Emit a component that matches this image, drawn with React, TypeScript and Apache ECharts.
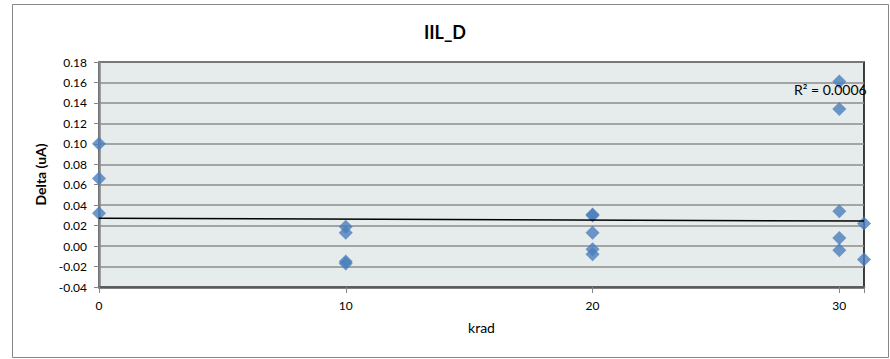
import React, { useEffect, useRef } from "react";
import * as echarts from "echarts";

const titleText = "IIL_D";
const xAxisName = "krad";
const yAxisName = "Delta (uA)";
const r2Label = "R² = 0.0006";

// scatter points: [krad, delta]
const kradValues = [0, 0, 0, 10, 10, 10, 10, 20, 20, 20, 20, 20, 30, 30, 30, 30, 30, 31, 31];
const deltaValues = [
  0.1, 0.066, 0.032,
  0.019, 0.013, -0.015, -0.017,
  0.031, 0.03, 0.013, -0.003, -0.008,
  0.161, 0.134, 0.034, 0.008, -0.004,
  0.022, -0.013,
];

// linear trend line endpoints
const trendX = [0, 31];
const trendY = [0.0272, 0.0245];

const yTicks = [-0.04, 0.18, 0.02];
const xTicks = [0, 31, 10];

const FONT = "Lato";

export default function App() {
  const ref = useRef<HTMLDivElement>(null);
  useEffect(() => {
    if (!ref.current) return;
    const chart = echarts.init(ref.current, undefined, { renderer: "svg" });
    const points = kradValues.map((x, i) => [x, deltaValues[i]]);
    const trend = trendX.map((x, i) => [x, trendY[i]]);
    chart.setOption({
      animation: false,
      backgroundColor: "#ffffff",
      textStyle: { fontFamily: FONT },
      title: {
        text: titleText,
        left: "center",
        top: 18,
        textStyle: { fontFamily: FONT, fontSize: 18, fontWeight: "bold", color: "#000" },
      },
      grid: {
        left: 99,
        right: 26,
        top: 62,
        bottom: 72,
        show: true,
        backgroundColor: "#e6ebeb",
        borderColor: "#000000",
        borderWidth: 1.5,
      },
      xAxis: {
        type: "value",
        min: xTicks[0],
        max: xTicks[1],
        interval: xTicks[2],
        name: xAxisName,
        nameLocation: "middle",
        nameGap: 33,
        nameTextStyle: { fontFamily: FONT, fontSize: 14, color: "#000" },
        axisLine: { show: true, onZero: false, lineStyle: { color: "#595959", width: 2.5 } },
        axisTick: { show: true, length: 6, lineStyle: { color: "#868686", width: 1 } },
        axisLabel: {
          margin: 12,
          fontFamily: FONT,
          fontSize: 12,
          color: "#000",
          formatter: (v: number) => (v % 10 === 0 ? String(v) : ""),
        },
        splitLine: { show: false },
      },
      yAxis: {
        type: "value",
        min: yTicks[0],
        max: yTicks[1],
        interval: yTicks[2],
        name: yAxisName,
        nameLocation: "middle",
        nameGap: 43,
        nameTextStyle: { fontFamily: FONT, fontSize: 14, fontWeight: "bold", color: "#000" },
        axisLine: { show: true, lineStyle: { color: "#868686", width: 2.5 } },
        axisTick: { show: true, length: 5, lineStyle: { color: "#868686", width: 1 } },
        axisLabel: {
          margin: 12,
          fontFamily: FONT,
          fontSize: 12,
          color: "#000",
          formatter: (v: number) => v.toFixed(2),
        },
        splitLine: { show: true, lineStyle: { color: "#8c8c8c", width: 1.5 } },
      },
      series: [
        {
          type: "scatter",
          data: points,
          symbol: "diamond",
          symbolSize: 14,
          itemStyle: { color: "#4a7ebb" },
          z: 3,
        },
        {
          type: "line",
          data: trend,
          showSymbol: false,
          symbol: "none",
          lineStyle: { color: "#000", width: 1.5 },
          z: 4,
          silent: true,
        },
      ],
      graphic: [
        {
          type: "rect",
          shape: { x: 12.5, y: 4.5, width: 876, height: 353 },
          style: { fill: "none", stroke: "#868686", lineWidth: 1 },
          silent: true,
          z: 0,
        },
        {
          type: "text",
          left: 794,
          top: 82,
          style: { text: r2Label, fontFamily: FONT, fontSize: 14, fill: "#000" },
          z: 10,
        },
      ],
    });
    return () => chart.dispose();
  }, []);
  return (
    <div
      ref={ref}
      style={{ position: "fixed", left: 0, top: 0, width: 890, height: 359 }}
    />
  );
}
